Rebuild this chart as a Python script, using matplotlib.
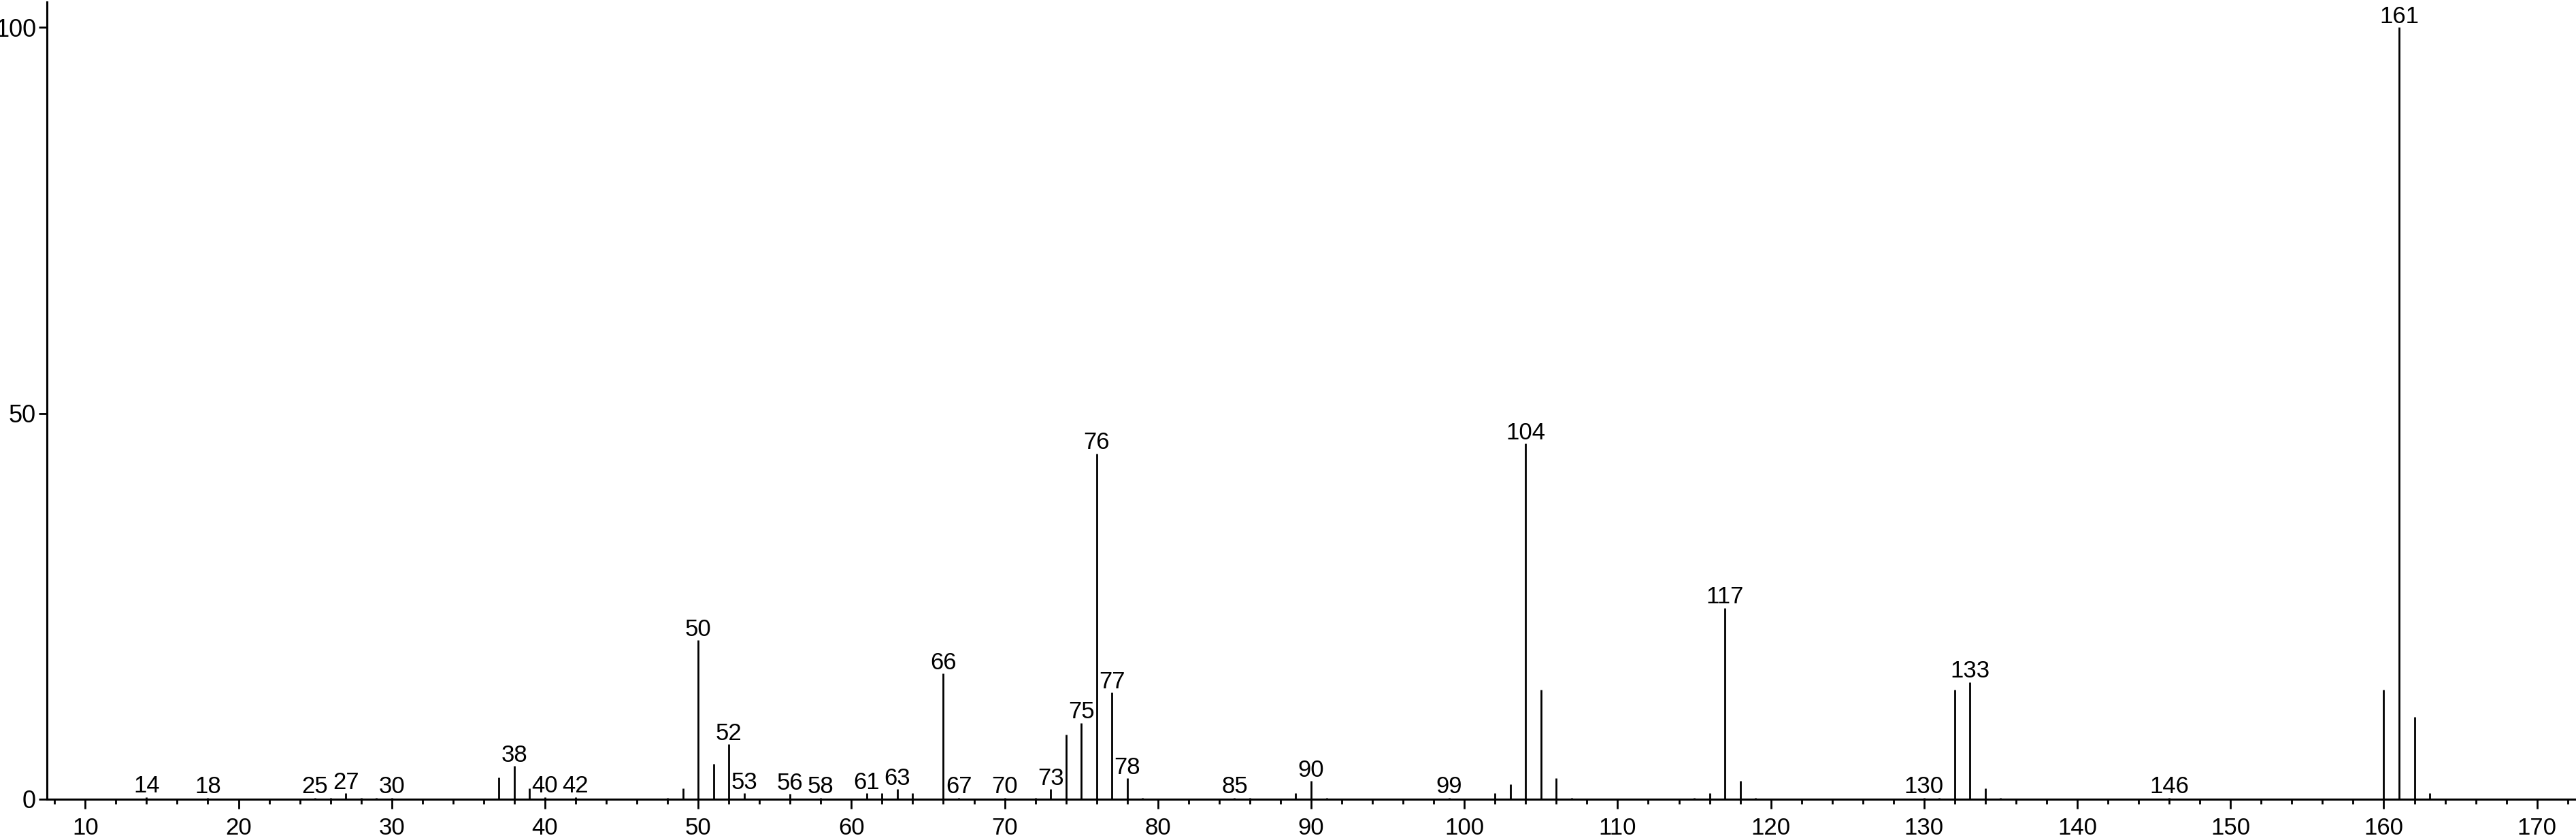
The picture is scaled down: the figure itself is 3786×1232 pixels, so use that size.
import matplotlib
matplotlib.use("Agg")
import matplotlib.pyplot as plt
from matplotlib.ticker import MultipleLocator

plt.rcParams['font.family'] = ['Liberation Sans', 'DejaVu Sans']

# m/z values and relative intensities (%)
mz = [14, 15, 18, 25, 26, 27, 28, 29, 30,
      37, 38, 39, 40, 41, 42, 43, 48, 49, 50, 51, 52, 53, 55, 56, 57, 58,
      61, 62, 63, 64, 65, 66, 67, 70, 72, 73, 74, 75, 76, 77, 78, 79,
      85, 86, 87, 89, 90, 91, 99, 101, 102, 103, 104, 105, 106, 107,
      115, 116, 117, 118, 119, 130, 131, 132, 133, 134, 135, 146,
      160, 161, 162, 163]
intensity = [0.3, 0.1, 0.2, 0.2, 0.2, 0.8, 0.2, 0.2, 0.2,
             2.8, 4.3, 1.4, 0.3, 0.1, 0.3, 0.1, 0.2, 1.4, 20.6, 4.6, 7.1, 0.8, 0.1, 0.7, 0.1, 0.2,
             0.8, 0.8, 1.3, 0.8, 0.1, 16.3, 0.2, 0.2, 0.2, 1.3, 8.4, 9.9, 44.8, 13.8, 2.7, 0.2,
             0.2, 0.2, 0.1, 0.8, 2.4, 0.2, 0.2, 0.1, 0.8, 1.9, 46.1, 14.2, 2.7, 0.2,
             0.2, 0.8, 24.8, 2.4, 0.2, 0.2, 0.2, 14.2, 15.2, 1.4, 0.2, 0.2,
             14.2, 100.0, 10.7, 0.8]

# peaks that carry an m/z label
labeled = [14, 18, 25, 27, 30, 38, 40, 42, 50, 52, 53, 56, 58, 61, 63, 66, 67,
           70, 73, 75, 76, 77, 78, 85, 90, 99, 104, 117, 130, 133, 146, 161]

x_ticks = list(range(10, 171, 10))
y_ticks = [0, 50, 100]

W, H = 3786, 1232
fig = plt.figure(figsize=(W / 100, H / 100), dpi=100)
ax = fig.add_axes([69 / W, 57 / H, 3716 / W, 1172 / H])

ax.vlines(mz, 0, intensity, color='black', linewidth=2.0)

inten_map = dict(zip(mz, intensity))
for m in labeled:
    ax.annotate(str(m), xy=(m, inten_map[m]), xytext=(0, 4.5),
                textcoords='offset points', ha='center', va='baseline',
                fontsize=25, color='black', annotation_clip=False)

ax.set_xlim(7.5, 172.5)
ax.set_ylim(0, 103.3)

ax.set_xticks(x_ticks)
ax.xaxis.set_minor_locator(MultipleLocator(2))
ax.set_yticks(y_ticks)

for s in ['top', 'right']:
    ax.spines[s].set_visible(False)
for s in ['left', 'bottom']:
    ax.spines[s].set_linewidth(2.2)
    ax.spines[s].set_color('black')

ax.tick_params(axis='x', which='major', length=10, width=2.0, pad=9,
               labelsize=25, direction='out')
ax.tick_params(axis='x', which='minor', length=5, width=2.0, direction='out')
ax.tick_params(axis='y', which='major', length=8.5, width=2.0, pad=3,
               labelsize=26, direction='out')

fig.savefig('out.png', dpi=100, facecolor='white')
